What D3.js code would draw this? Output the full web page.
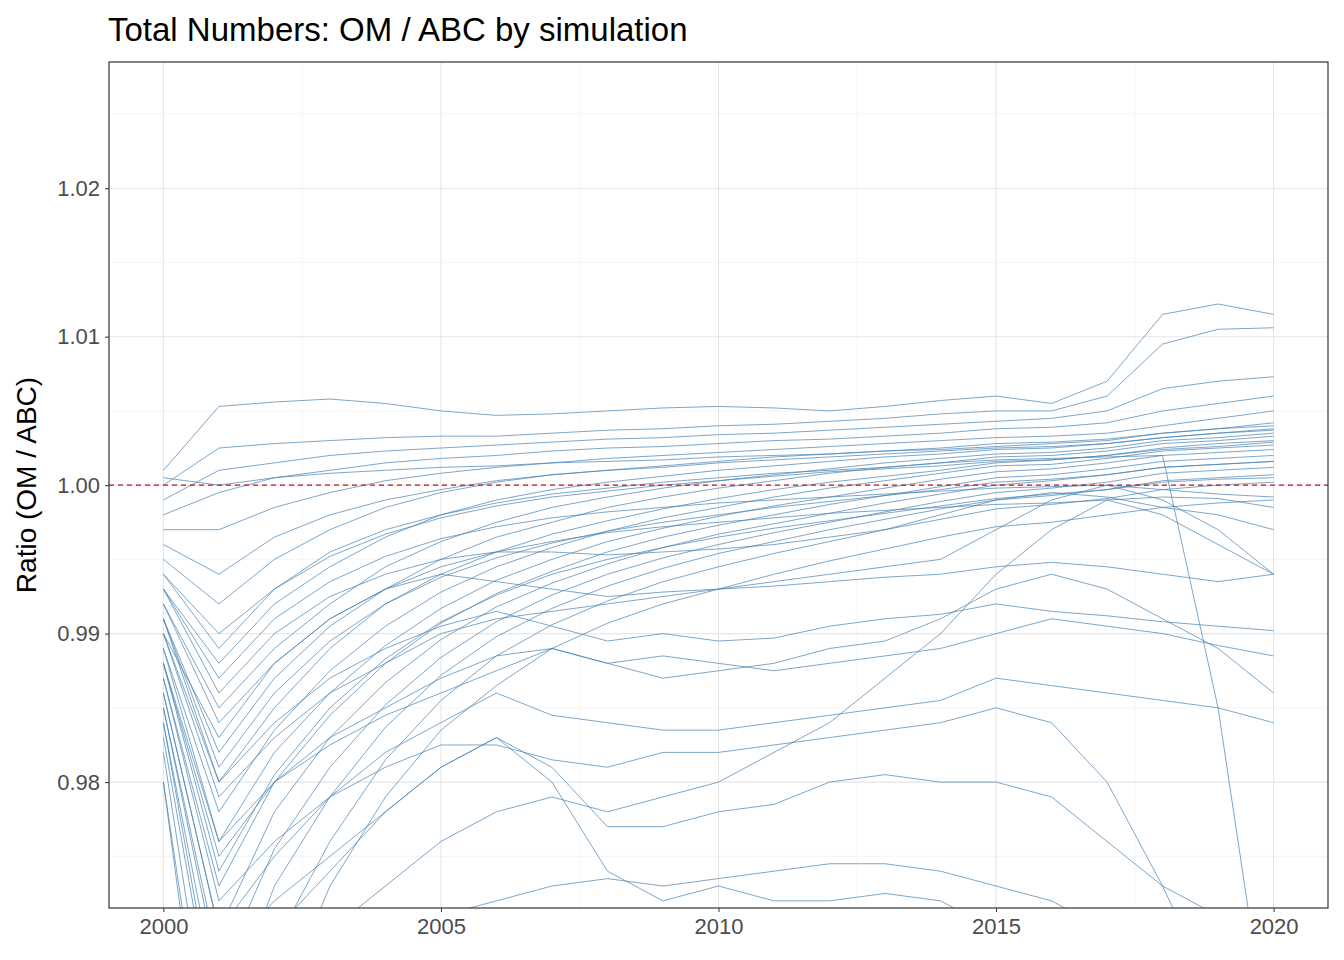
<!DOCTYPE html>
<html lang="en">
<head>
<meta charset="UTF-8">
<title>Total Numbers: OM / ABC by simulation</title>
<script src="https://cdn.jsdelivr.net/npm/d3@7/dist/d3.min.js"></script>
<style>
  body, html { margin: 0; background: #fff; font-family: Arial, "Liberation Sans", sans-serif; }
  svg { display: block; }
</style>
</head>
<body>
<svg width="1344" height="960"></svg>
<script>
// years on the x axis
const years = d3.range(2000, 2021);
const xTicks = [2000, 2005, 2010, 2015, 2020];
const yTicks = [0.98, 0.99, 1.00, 1.01, 1.02];
// simulated ratio deviations, in per-mille from 1 (ratio = 1 + v/1000)
const sims = [
  [1,5.3,5.6,5.8,5.5,5,4.7,4.8,5,5.2,5.3,5.2,5,5.3,5.7,6,5.5,7,11.5,12.2,11.5],
  [0,2.5,2.8,3,3.2,3.3,3.3,3.5,3.7,3.8,4,4.1,4.3,4.5,4.8,5,5,6,9.5,10.5,10.6],
  [-1,1,1.5,2,2.3,2.5,2.7,2.9,3.1,3.2,3.4,3.5,3.7,3.9,4.1,4.3,4.5,5,6.5,7,7.3],
  [-2,-0.5,0.5,1,1.5,1.8,2,2.3,2.5,2.6,2.8,3,3.1,3.3,3.5,3.8,3.9,4.2,5,5.5,6],
  [-3,-3,-1.5,-0.5,0.3,0.8,1.2,1.5,1.8,2,2.2,2.4,2.6,2.8,3,3.2,3.3,3.5,4,4.5,5],
  [-5,-8,-5,-3,-1.5,-0.5,0.2,0.7,1,1.3,1.6,1.9,2.1,2.3,2.5,2.8,2.9,3.1,3.5,3.8,4.2],
  [-7,-12,-8,-5.5,-3.5,-2,-1,-0.3,0.2,0.6,1,1.3,1.6,1.9,2.1,2.4,2.5,2.8,3.2,3.5,3.8],
  [-8,-15,-11,-8,-5.5,-3.8,-2.5,-1.5,-0.8,-0.2,0.3,0.7,1.1,1.5,1.8,2.1,2.2,2.5,3,3.2,3.5],
  [-9,-18,-13,-9.5,-7,-5,-3.5,-2.5,-1.5,-0.8,-0.2,0.3,0.8,1.2,1.5,1.9,2,2.3,2.8,3,3.3],
  [-10,-20,-15,-11,-8,-6,-4.5,-3.3,-2.4,-1.6,-0.9,-0.3,0.2,0.6,1,1.5,1.7,2,2.5,2.8,3],
  [-11,-22,-16.5,-12.5,-9.5,-7.2,-5.5,-4.2,-3.1,-2.2,-1.5,-0.8,-0.2,0.3,0.8,1.3,1.4,1.8,2.3,2.5,2.7],
  [-12,-24,-18,-14,-10.8,-8.3,-6.4,-5,-3.8,-2.9,-2.1,-1.4,-0.8,-0.2,0.4,0.9,1.1,1.5,2,2.2,2.4],
  [-13,-27,-20,-15.5,-12,-9.3,-7.3,-5.8,-4.5,-3.5,-2.7,-2,-1.3,-0.7,-0.1,0.5,0.7,1.1,1.6,1.8,2],
  [-14,-30,-22,-17,-13.3,-10.4,-8.2,-6.6,-5.3,-4.2,-3.3,-2.6,-1.9,-1.2,-0.6,0,0.3,0.7,1.2,1.4,1.6],
  [-15,-33,-24.5,-19,-14.8,-11.6,-9.2,-7.4,-6,-4.9,-4,-3.2,-2.5,-1.8,-1.1,-0.5,-0.2,0.2,0.8,1,1.2],
  [-16,-37,-27,-21,-16.3,-12.8,-10.2,-8.3,-6.8,-5.6,-4.6,-3.8,-3,-2.3,-1.6,-1,-0.7,-0.3,0.3,0.5,0.7],
  [-18,-42,-31,-24,-18.5,-14.5,-11.5,-9.4,-7.8,-6.5,-5.5,-4.6,-3.8,-3,-2.3,-1.6,-1.3,-0.9,-0.3,0,0.2],
  [-20,-48,-36,-27,-21,-16.5,-13.5,-11,-9.3,-8,-7,-6,-5.1,-4.3,-3.5,-2.8,-2.5,-2,-1.5,-1.2,-1],
  [-10,-17,-12,-9,-7,-5.5,-4.5,-3.8,-3.2,-2.8,-2.5,-2.2,-1.9,-1.7,-1.5,-1.3,-1.2,-1,-0.8,-0.9,-1.5],
  [-9,-20,-16,-13,-11,-9.5,-8.5,-9.5,-10.5,-10,-10.5,-10.3,-9.5,-9,-8.7,-8,-8.5,-8.8,-9.2,-9.5,-9.8],
  [-12,-25,-20,-17,-15,-13,-11.5,-11,-12,-11.5,-12,-12.5,-12,-11.5,-11,-10,-9,-9.5,-10,-10.8,-11.5],
  [-14,-30,-25,-21,-18,-16,-14,-15.5,-16,-16.5,-16.5,-16,-15.5,-15,-14.5,-13,-13.5,-14,-14.5,-15,-16],
  [-16,-35,-30,-26,-22,-19,-17,-19,-23,-23,-22,-21.5,-20,-19.5,-20,-20,-21,-24,-27,-29,-30],
  [-13,-28,-24,-21,-19,-17.5,-17.5,-18.5,-19,-18,-18,-17.5,-17,-16.5,-16,-15,-16,-20,-27,-35,-45],
  [-15,-32,-28,-25,-22,-19,-17,-20,-26,-28,-27,-28,-28,-27.5,-28,-30,-32,-36,-40,-45,-50],
  [-11,-24,-20,-17.5,-15.5,-14,-12.5,-11,-12,-13,-12.5,-12,-11,-10.5,-9,-7,-6,-7,-9,-11,-14],
  [-17,-38,-34,-30,-27,-24,-22,-21,-22,-21,-20,-18,-16,-13,-10,-6,-3,-1,-2,-4,-6],
  [-7,-14,-10,-7.5,-6,-5,-4.5,-4.5,-4.7,-4.5,-4.3,-4,-3.5,-3,-2,-1,-0.5,-0.8,-1.5,-2,-3],
  [-6,-11,-7,-4.5,-3,-2,-1.2,-0.6,-0.2,0.2,0.5,0.8,1,1.2,1.5,1.7,1.8,1.9,2,-15,-40],
  [-20,-45,-40,-36,-32,-29,-28,-27,-26.5,-27,-26.5,-26,-25.5,-25.5,-26,-27,-28,-30,-33,-35,-38],
  [-8,-16,-12,-9,-7,-6,-6.5,-7,-7.5,-7.2,-7,-6.8,-6.5,-6.2,-6,-5.5,-5.2,-5.5,-6,-6.5,-6],
  [-10,-21,-17,-14,-12,-10,-9,-8.5,-8,-7.5,-7,-6.5,-6,-5.5,-5,-3,-1,0,-1,-3,-6],
  [0.5,0,0.5,0.8,1,1.2,1.3,1.5,1.6,1.7,1.9,2,2.1,2.3,2.4,2.6,2.8,3,3.5,3.8,4],
  [-4,-6,-3.5,-2,-1,-0.3,0.3,0.7,1,1.2,1.5,1.7,1.9,2.1,2.3,2.5,2.6,2.8,3.2,3.5,3.7],
  [-6,-10,-7,-4.8,-3.3,-2.2,-1.4,-0.8,-0.4,0,0.3,0.6,0.9,1.1,1.3,1.6,1.7,2,2.4,2.6,2.9],
  [-9,-19,-14,-10.5,-8,-6.2,-4.9,-3.9,-3.1,-2.5,-2,-1.5,-1.1,-0.7,-0.3,0.2,0.4,0.7,1.2,1.4,1.6],
  [-12,-26,-19.5,-15,-11.7,-9.2,-7.4,-6,-5,-4.2,-3.5,-2.9,-2.4,-1.9,-1.4,-0.9,-0.6,-0.3,0.2,0.4,0.5],
  [-7,-13,-9,-6.5,-4.8,-3.6,-2.8,-2.2,-1.8,-1.5,-1.2,-1,-0.8,-0.6,-0.4,-0.2,-0.1,0,-0.3,-0.6,-0.8]
];

const svg = d3.select('svg');
const m = {left: 109, right: 1328, top: 62, bottom: 908};
const x = d3.scaleLinear().domain([1999.02, 2020.98]).range([m.left, m.right]);
const y = d3.scaleLinear().domain([0.97152, 1.0285]).range([m.bottom, m.top]);

svg.append('text').attr('x', 108).attr('y', 41).attr('font-size', 33).attr('fill', '#000')
  .text('Total Numbers: OM / ABC by simulation');

const g = svg.append('g');
// grid
const minorY = d3.range(0.975, 1.026, 0.01);
const minorX = [2002.5, 2007.5, 2012.5, 2017.5];
g.selectAll('.gyM').data(minorY).enter().append('line')
  .attr('x1', m.left).attr('x2', m.right).attr('y1', d => y(d)).attr('y2', d => y(d))
  .attr('stroke', '#f0f0f0').attr('stroke-width', 0.6);
g.selectAll('.gxM').data(minorX).enter().append('line')
  .attr('y1', m.top).attr('y2', m.bottom).attr('x1', d => x(d)).attr('x2', d => x(d))
  .attr('stroke', '#f0f0f0').attr('stroke-width', 0.6);
g.selectAll('.gy').data(yTicks).enter().append('line')
  .attr('x1', m.left).attr('x2', m.right).attr('y1', d => y(d)).attr('y2', d => y(d))
  .attr('stroke', '#e6e6e6').attr('stroke-width', 1.1);
g.selectAll('.gx').data(xTicks).enter().append('line')
  .attr('y1', m.top).attr('y2', m.bottom).attr('x1', d => x(d)).attr('x2', d => x(d))
  .attr('stroke', '#e6e6e6').attr('stroke-width', 1.1);

svg.append('clipPath').attr('id', 'clip').append('rect')
  .attr('x', m.left).attr('y', m.top).attr('width', m.right - m.left).attr('height', m.bottom - m.top);

const line = d3.line().x((d, i) => x(years[i])).y(d => y(1 + d / 1000));
svg.append('g').attr('clip-path', 'url(#clip)').selectAll('path').data(sims).enter().append('path')
  .attr('d', line).attr('fill', 'none').attr('stroke', 'steelblue')
  .attr('stroke-width', 1).attr('stroke-opacity', 0.7);

svg.append('line').attr('x1', m.left).attr('x2', m.right).attr('y1', y(1)).attr('y2', y(1))
  .attr('stroke', '#c4161c').attr('stroke-width', 1.4).attr('stroke-dasharray', '5,4');

svg.append('rect').attr('x', m.left).attr('y', m.top).attr('width', m.right - m.left)
  .attr('height', m.bottom - m.top).attr('fill', 'none').attr('stroke', '#333').attr('stroke-width', 1.2);

// axes
const xa = svg.append('g').attr('transform', `translate(0,${m.bottom})`)
  .call(d3.axisBottom(x).tickValues(xTicks).tickFormat(d3.format('d')).tickSize(4).tickPadding(6));
const ya = svg.append('g').attr('transform', `translate(${m.left},0)`)
  .call(d3.axisLeft(y).tickValues(yTicks).tickFormat(d3.format('.2f')).tickSize(4).tickPadding(5));
[xa, ya].forEach(a => {
  a.select('.domain').remove();
  a.selectAll('line').attr('stroke', '#333');
  a.selectAll('text').attr('fill', '#4d4d4d').attr('font-size', 22).attr('font-family', 'Arial, "Liberation Sans", sans-serif');
});

svg.append('text').attr('transform', 'translate(36,485) rotate(-90)').attr('text-anchor', 'middle')
  .attr('font-size', 28).attr('fill', '#000').text('Ratio (OM / ABC)');
</script>
</body>
</html>
